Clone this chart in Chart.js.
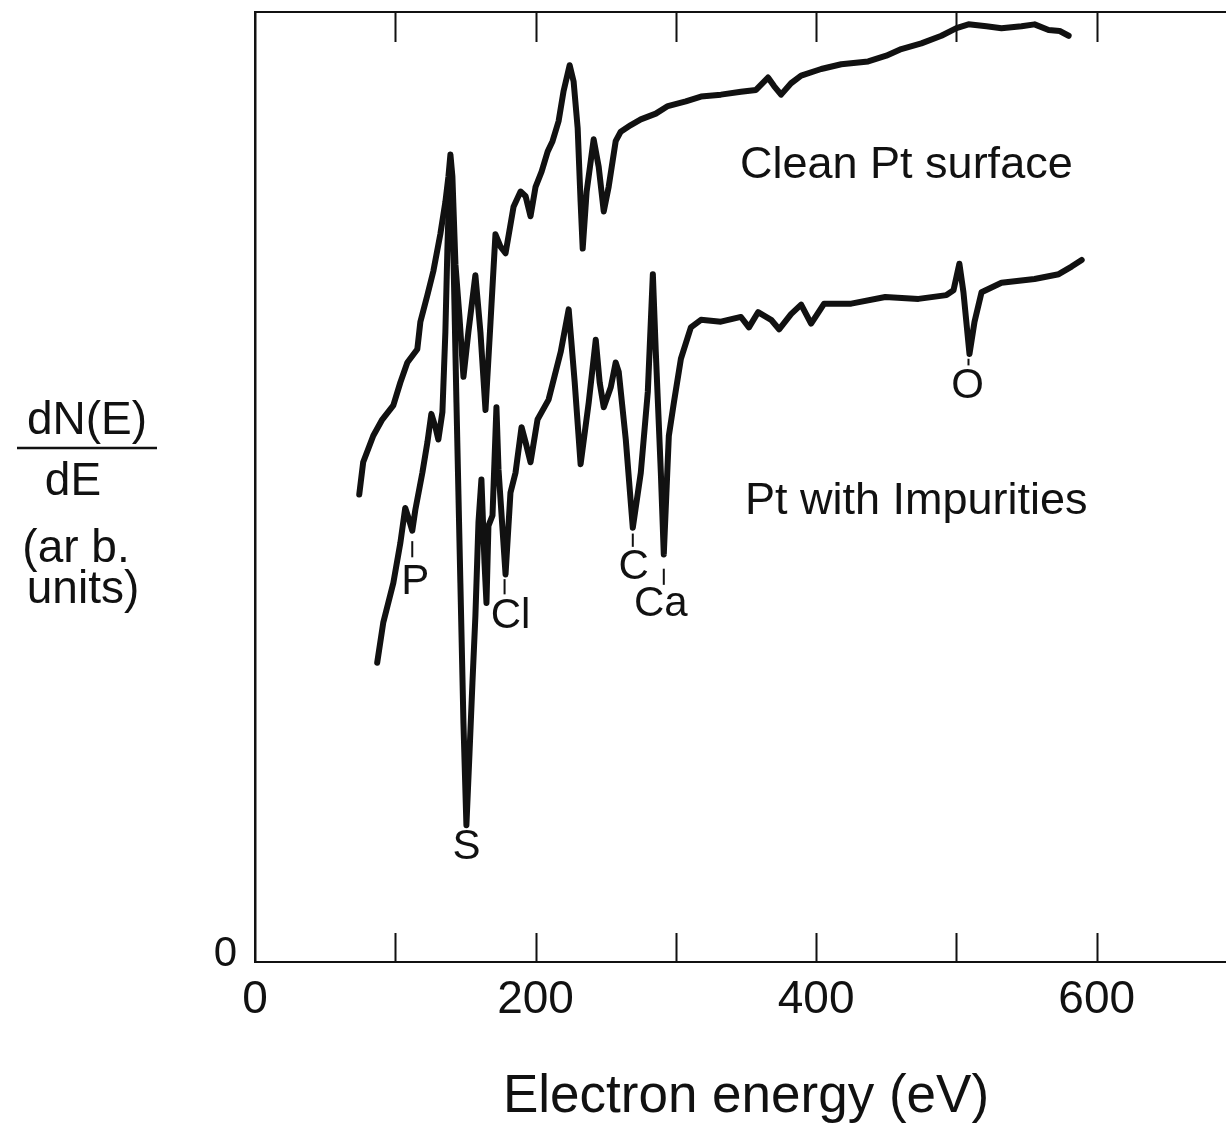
<!DOCTYPE html>
<html>
<head>
<meta charset="utf-8">
<script src="https://cdn.jsdelivr.net/npm/chart.js@4.4.1/dist/chart.umd.min.js"></script>
<style>
  html, body { margin: 0; padding: 0; background: #fff; overflow: hidden; }
  #wrap { width: 1237px; height: 1132px; }
</style>
</head>
<body>
<div id="wrap"><canvas id="c" width="1237" height="1132"></canvas></div>
<script>
// ---------------- data (energy in eV, dN/dE in arbitrary units 0-100) ----------------
const cleanE = [74.3, 77.1, 84.3, 90.7, 98.6, 103.6, 108.6, 115.7, 117.9, 122.9, 127.1, 132.1, 135.7, 137.9, 139.3,
  140.7, 142.9, 145.7, 148.6, 152.1, 157.1, 160.7, 164.3, 167.9, 171.4, 175.0, 178.6, 184.3, 189.3, 192.9, 196.4,
  200.0, 204.3, 208.6, 212.1, 216.4, 220.0, 224.3, 227.1, 230.0, 232.1, 233.6, 236.4, 241.4, 245.0, 248.6, 252.1,
  257.1, 260.7, 267.9, 275.0, 285.7, 294.3, 307.1, 317.9, 332.1, 346.4, 357.1, 365.7, 370.0, 375.0, 382.1, 389.3,
  403.6, 417.9, 437.1, 450.0, 460.7, 475.0, 489.3, 500.0, 508.6, 521.4, 532.1, 546.4, 555.7, 565.7, 573.6, 580.0];
const cleanV = [49.2, 52.6, 55.4, 57.1, 58.6, 61.0, 63.1, 64.5, 67.4, 70.2, 72.7, 76.6, 80.0, 82.7, 85.0,
  82.7, 73.4, 68.0, 61.6, 66.3, 72.3, 66.3, 58.1, 67.4, 76.6, 75.3, 74.6, 79.5, 81.1, 80.6, 78.5,
  81.6, 83.2, 85.3, 86.4, 88.5, 91.7, 94.4, 92.7, 87.8, 80.0, 75.1, 81.1, 86.6, 83.7, 79.0, 81.6,
  86.4, 87.4, 88.1, 88.7, 89.3, 90.1, 90.6, 91.1, 91.3, 91.6, 91.8, 93.1, 92.2, 91.3, 92.5, 93.3,
  94.0, 94.5, 94.8, 95.4, 96.1, 96.7, 97.5, 98.3, 98.7, 98.5, 98.3, 98.5, 98.7, 98.1, 98.0, 97.5];

const impE = [87.1, 91.4, 98.6, 103.6, 107.1, 109.3, 112.1, 114.3, 119.3, 122.9, 125.7, 128.6, 130.7, 133.6, 135.7,
  137.1, 138.6, 140.0, 141.4, 143.6, 146.4, 148.6, 150.7, 152.9, 155.0, 157.1, 159.3, 161.4, 163.6, 165.0, 166.4,
  169.3, 172.1, 173.6, 178.6, 182.1, 185.7, 190.0, 192.9, 196.4, 201.4, 209.3, 217.9, 223.6, 227.9, 232.1, 237.9,
  242.9, 245.7, 248.6, 253.6, 257.1, 259.3, 264.3, 269.3, 275.0, 280.0, 283.6, 285.7, 289.3, 291.4, 295.0, 298.6,
  303.6, 310.7, 317.9, 332.1, 346.4, 352.1, 358.6, 367.9, 373.6, 382.1, 389.3, 396.4, 405.7, 425.0, 449.3, 472.9,
  492.9, 497.9, 502.1, 505.0, 509.3, 512.9, 517.9, 532.1, 555.7, 572.9, 582.1, 589.3];
const impV = [31.5, 35.7, 39.9, 44.1, 47.8, 46.8, 45.4, 47.6, 51.5, 54.7, 57.7, 56.3, 55.0, 57.9, 66.3,
  74.8, 82.2, 83.2, 74.8, 58.9, 39.9, 25.1, 14.4, 22.0, 29.4, 36.4, 46.3, 50.8, 42.0, 37.8, 45.9,
  47.0, 58.4, 51.8, 40.8, 49.4, 51.5, 56.3, 54.7, 52.6, 57.1, 59.2, 64.2, 68.7, 61.0, 52.4, 58.9,
  65.5, 61.0, 58.4, 60.5, 63.1, 62.1, 55.0, 45.7, 51.5, 60.0, 72.4, 64.2, 51.5, 42.9, 55.4, 58.9,
  63.5, 66.8, 67.6, 67.4, 67.9, 66.8, 68.4, 67.6, 66.6, 68.2, 69.2, 67.2, 69.3, 69.3, 70.0, 69.8,
  70.2, 70.7, 73.5, 70.5, 64.0, 67.4, 70.5, 71.5, 71.9, 72.4, 73.2, 73.9];

const xTickLabels = ['0', '200', '400', '600'];
const yTickLabels = ['0'];

// ---------------- annotation text ----------------
const peakNames = ['P', 'Cl', 'S', 'C', 'Ca', 'O'];
const peakLabelAt = [[114.3, 40.0], [182.1, 36.4], [150.7, 12.1], [270.0, 41.5], [289.3, 37.6], [507.9, 60.6]];
const peakMarkAt = [[112.1, 44.3, 42.6], [177.9, 40.3, 38.7], null, [269.3, 45.1, 43.7], [291.4, 41.4, 39.7], [508.6, 63.5, 62.8]];
const curveNames = ['Clean Pt surface', 'Pt with Impurities'];
const curveNameAt = [[464.3, 83.8], [471.4, 48.5]];

const INK = '#111111';
const FONT = "'Liberation Sans', Arial, sans-serif";
Chart.defaults.font.family = FONT;
Chart.defaults.color = INK;

const toPts = (xs, ys) => xs.map((x, i) => ({ x: x, y: ys[i] }));

const inwardTicks = {
  id: 'inwardTicks',
  afterDraw(chart) {
    const { ctx, chartArea } = chart;
    const xs = chart.scales.x;
    ctx.save();
    ctx.strokeStyle = INK;
    ctx.lineWidth = 2;
    xs.ticks.forEach(t => {
      if (t.value <= xs.min || t.value >= xs.max) return;
      const px = Math.round(xs.getPixelForValue(t.value)) + 0.5;
      ctx.beginPath();
      ctx.moveTo(px, chartArea.bottom);
      ctx.lineTo(px, chartArea.bottom - 29);
      ctx.moveTo(px, chartArea.top);
      ctx.lineTo(px, chartArea.top + 30);
      ctx.stroke();
    });
    ctx.restore();
  }
};

const annotations = {
  id: 'annotations',
  afterDatasetsDraw(chart) {
    const { ctx } = chart;
    const xs = chart.scales.x, ys = chart.scales.y;
    ctx.save();
    ctx.fillStyle = INK;
    ctx.strokeStyle = INK;
    ctx.textAlign = 'center';
    ctx.textBaseline = 'middle';
    ctx.font = '42px ' + FONT;
    peakNames.forEach((name, i) => {
      const [e, v] = peakLabelAt[i];
      ctx.fillText(name, xs.getPixelForValue(e), ys.getPixelForValue(v));
      const m = peakMarkAt[i];
      if (m) {
        const px = xs.getPixelForValue(m[0]);
        ctx.lineWidth = 2;
        ctx.beginPath();
        ctx.moveTo(px, ys.getPixelForValue(m[1]));
        ctx.lineTo(px, ys.getPixelForValue(m[2]));
        ctx.stroke();
      }
    });
    ctx.font = '45px ' + FONT;
    curveNames.forEach((name, i) => {
      const [e, v] = curveNameAt[i];
      ctx.fillText(name, xs.getPixelForValue(e), ys.getPixelForValue(v));
    });
    // y-axis title (fraction)
    ctx.font = '46px ' + FONT;
    ctx.fillText('dN(E)', 87, 421);
    ctx.fillText('dE', 73, 482);
    ctx.fillText('(ar b.', 76, 549);
    ctx.fillText('units)', 83, 590);
    ctx.lineWidth = 2.5;
    ctx.beginPath();
    ctx.moveTo(17, 448);
    ctx.lineTo(157, 448);
    ctx.stroke();
    ctx.restore();
  }
};

new Chart(document.getElementById('c'), {
  type: 'line',
  data: {
    datasets: [
      { label: curveNames[0], data: toPts(cleanE, cleanV) },
      { label: curveNames[1], data: toPts(impE, impV) }
    ]
  },
  options: {
    responsive: false,
    animation: false,
    devicePixelRatio: 1,
    layout: { padding: 0 },
    elements: {
      point: { radius: 0 },
      line: { borderColor: INK, borderWidth: 6, tension: 0, borderJoinStyle: 'round', borderCapStyle: 'round', fill: false }
    },
    plugins: { legend: { display: false }, tooltip: { enabled: false } },
    scales: {
      x: {
        type: 'linear', position: 'bottom', min: 0, max: 700,
        afterBuildTicks(s) { s.ticks = [0, 100, 200, 300, 400, 500, 600, 700].map(v => ({ value: v })); },
        ticks: {
          autoSkip: false, maxRotation: 0, padding: 3,
          font: { size: 46 }, color: INK,
          callback: v => (xTickLabels.includes(String(v)) ? String(v) : '')
        },
        grid: { display: false },
        border: { display: true, color: INK, width: 2 },
        title: { display: true, text: 'Electron energy (eV)', font: { size: 53 }, color: INK, padding: { top: 0, bottom: 3 } },
        afterFit(s) { s.height = 170; s.paddingLeft = 0; s.paddingRight = 0; }
      },
      xTop: {
        type: 'linear', position: 'top', min: 0, max: 700,
        ticks: { display: false },
        grid: { display: false },
        border: { display: true, color: INK, width: 2 },
        afterFit(s) { s.height = 12; s.paddingLeft = 0; s.paddingRight = 0; }
      },
      y: {
        type: 'linear', position: 'left', min: 0, max: 100,
        afterBuildTicks(s) { s.ticks = yTickLabels.map(t => ({ value: Number(t) })); },
        ticks: { font: { size: 42 }, color: INK, padding: 10, labelOffset: -8, callback: v => String(v) },
        grid: { display: false },
        border: { display: true, color: INK, width: 2.5 },
        afterFit(s) { s.width = 255; s.paddingTop = 0; s.paddingBottom = 0; }
      }
    }
  },
  plugins: [inwardTicks, annotations]
});
</script>
</body>
</html>
